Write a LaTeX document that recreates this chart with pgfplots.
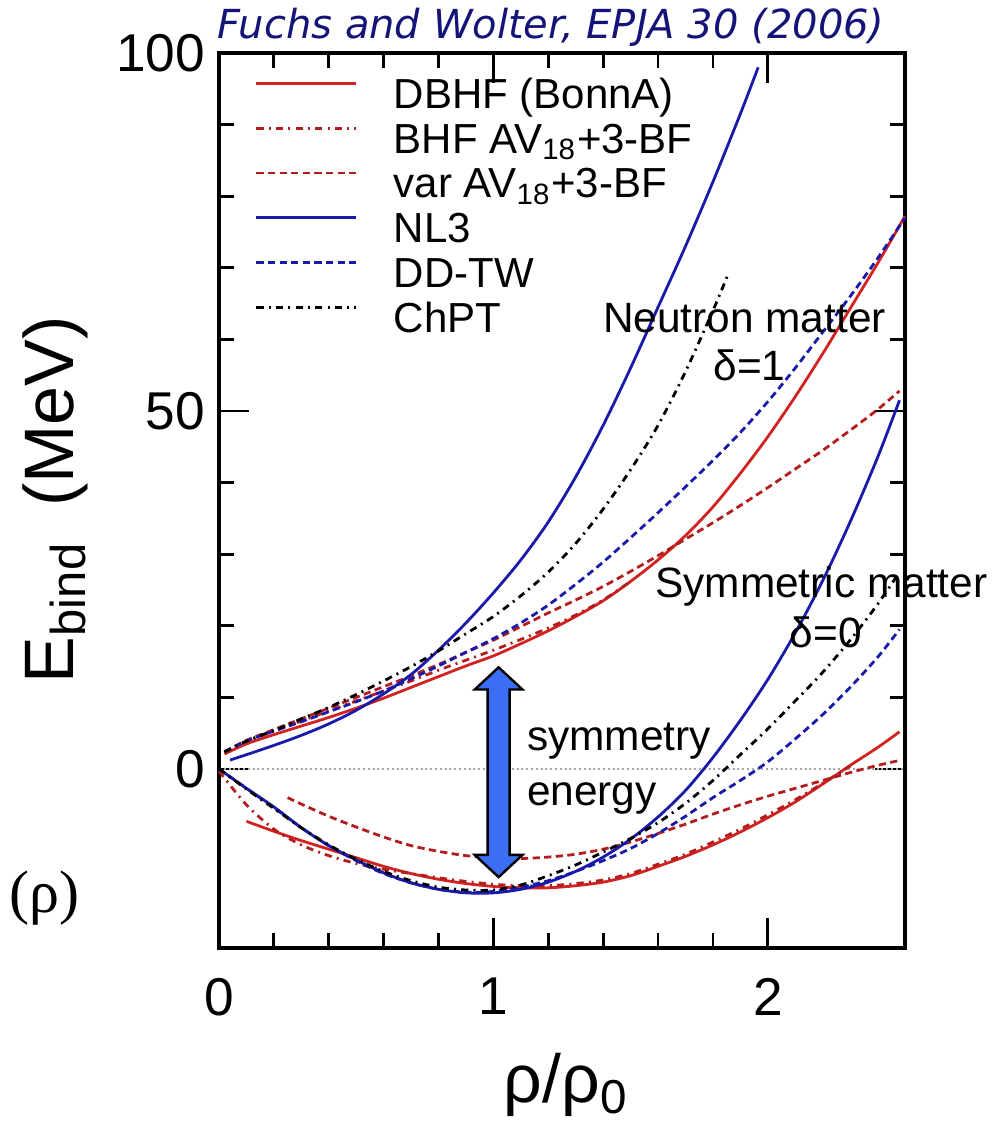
\documentclass[border=0pt]{standalone}
\usepackage{pgfplots}
\pgfplotsset{compat=1.18}
\usepackage{fontspec}
\setmainfont{Liberation Sans}
\newfontfamily\titlefont{DejaVu Sans}
\newfontfamily\seriffont{Liberation Serif}
\definecolor{cred}{RGB}{210,35,35}
\definecolor{cblue}{RGB}{25,25,170}
\definecolor{arrowblue}{RGB}{60,110,245}
\definecolor{navy}{RGB}{20,20,120}

\pgfplotstableread{
x y
0.02 2.1
0.1 3.5
0.2 4.8
0.3 6.0
0.4 7.2
0.5 8.5
0.6 9.9
0.7 11.4
0.8 12.9
0.9 14.4
1.0 15.8
1.1 17.5
1.2 19.3
1.3 21.3
1.4 23.5
1.5 26.2
1.6 29.2
1.7 32.6
1.8 36.6
1.9 41.3
2.0 46.4
2.1 52.0
2.2 58.0
2.3 64.3
2.4 70.6
2.5 77.2
}\dbhfN
\pgfplotstableread{
x y
0.02 2.3
0.1 3.8
0.2 5.3
0.3 6.7
0.4 8.1
0.5 9.5
0.6 10.9
0.7 12.3
0.8 13.8
0.9 15.2
1.0 16.6
1.1 18.1
1.2 19.7
1.3 21.5
1.4 23.6
1.5 26.2
}\bhfN
\pgfplotstableread{
x y
0.02 2.4
0.1 4.0
0.2 5.5
0.3 7.0
0.4 8.5
0.5 10.0
0.6 11.5
0.7 13.0
0.8 14.6
0.9 16.3
1.0 18.0
1.1 19.9
1.2 21.8
1.3 23.6
1.4 25.5
1.5 27.6
1.6 29.8
1.7 32.1
1.8 34.4
1.9 36.8
2.0 39.3
2.1 41.9
2.2 44.5
2.3 47.3
2.4 50.2
2.48 52.8
}\varN
\pgfplotstableread{
x y
0.04 1.25
0.1 2.0
0.2 3.3
0.3 4.7
0.4 6.3
0.5 8.2
0.6 10.5
0.7 13.2
0.8 16.6
0.9 20.4
1.0 24.6
1.1 29.2
1.2 34.5
1.3 40.8
1.4 48.0
1.5 56.0
1.6 64.5
1.7 73.0
1.8 82.0
1.9 91.5
1.965 98.0
}\nlN
\pgfplotstableread{
x y
0.02 2.4
0.1 3.9
0.2 5.3
0.3 6.6
0.4 8.0
0.5 9.4
0.6 10.9
0.7 12.6
0.8 14.4
0.9 16.3
1.0 18.2
1.1 20.4
1.2 22.9
1.3 25.8
1.4 28.9
1.5 32.3
1.6 35.8
1.7 39.4
1.8 43.1
1.9 47.0
2.0 51.3
2.1 56.0
2.2 61.0
2.3 66.0
2.4 71.3
2.5 77.0
}\ddN
\pgfplotstableread{
x y
0.02 2.4
0.1 3.9
0.2 5.4
0.3 7.0
0.4 8.6
0.5 10.4
0.6 12.3
0.7 14.3
0.8 16.5
0.9 18.9
1.0 21.3
1.1 24.2
1.2 27.5
1.3 31.5
1.4 36.3
1.5 41.8
1.6 48.0
1.7 55.5
1.8 64.0
1.854 69.0
}\chN
\pgfplotstableread{
x y
0.1 -7.3
0.2 -8.7
0.3 -10.0
0.4 -11.2
0.5 -12.4
0.6 -13.6
0.7 -14.6
0.8 -15.4
0.9 -16.0
1.0 -16.4
1.1 -16.6
1.2 -16.6
1.3 -16.3
1.4 -15.8
1.5 -14.9
1.6 -13.6
1.7 -12.2
1.8 -10.6
1.9 -8.8
2.0 -6.8
2.1 -4.6
2.2 -2.1
2.3 0.5
2.4 3.0
2.48 5.2
}\dbhfS
\pgfplotstableread{
x y
0.0 -0.3
0.1 -5.0
0.2 -8.4
0.3 -10.6
0.4 -12.1
0.5 -13.2
0.6 -14.0
0.7 -14.6
0.8 -15.2
0.9 -15.7
1.0 -16.1
1.1 -16.3
1.2 -16.3
1.3 -16.0
1.4 -15.5
1.5 -14.6
1.6 -13.3
1.7 -11.9
1.8 -10.2
1.9 -8.4
2.0 -6.4
2.1 -4.3
2.2 -2.0
2.3 0.4
}\bhfS
\pgfplotstableread{
x y
0.25 -4.0
0.3 -4.9
0.4 -6.6
0.5 -8.1
0.6 -9.5
0.7 -10.7
0.8 -11.5
0.9 -12.1
1.0 -12.4
1.1 -12.5
1.2 -12.3
1.3 -11.9
1.4 -11.2
1.5 -10.2
1.6 -9.0
1.7 -7.7
1.8 -6.3
1.9 -5.0
2.0 -3.8
2.1 -2.7
2.2 -1.6
2.3 -0.5
2.4 0.5
2.48 1.2
}\varS
\pgfplotstableread{
x y
0.0 0.0
0.1 -2.7
0.2 -5.3
0.3 -8.2
0.4 -10.7
0.5 -12.7
0.6 -14.5
0.7 -15.9
0.8 -16.8
0.9 -17.3
1.0 -17.3
1.1 -16.8
1.2 -15.8
1.3 -14.3
1.4 -12.3
1.5 -9.8
1.6 -6.7
1.7 -3.0
1.8 1.6
1.9 6.8
2.0 12.5
2.1 19.0
2.2 26.3
2.3 34.5
2.4 43.5
2.48 51.5
}\nlS
\pgfplotstableread{
x y
0.0 0.0
0.1 -2.7
0.2 -5.4
0.3 -8.2
0.4 -10.7
0.5 -12.8
0.6 -14.6
0.7 -15.9
0.8 -16.8
0.9 -17.2
1.0 -17.1
1.1 -16.5
1.2 -15.6
1.3 -14.3
1.4 -12.8
1.5 -11.1
1.6 -9.0
1.7 -6.6
1.8 -4.0
1.9 -1.6
2.0 1.0
2.1 4.2
2.2 7.6
2.3 11.4
2.4 15.6
2.48 19.5
}\ddS
\pgfplotstableread{
x y
0.0 0.0
0.1 -2.8
0.2 -5.5
0.3 -8.2
0.4 -10.6
0.5 -12.6
0.6 -14.3
0.7 -15.6
0.8 -16.5
0.9 -16.9
1.0 -16.9
1.1 -16.2
1.2 -14.9
1.3 -13.4
1.4 -11.6
1.5 -9.7
1.6 -7.5
1.7 -4.8
1.8 -1.6
1.9 2.0
2.0 5.6
2.1 9.5
2.2 13.5
2.3 18.0
2.4 23.0
2.48 27.5
}\chS

\begin{document}
\begin{tikzpicture}
\path[use as bounding box] (-54.75pt,-46.5pt) rectangle (196.5pt,237pt);
\begin{axis}[
  at={(0pt,0pt)}, anchor=south west,
  scale only axis, width=171.5pt, height=223.75pt,
  xmin=0, xmax=2.5, ymin=-25, ymax=100,
  xtick={0,1,2}, ytick={0,50,100},
  minor x tick num=4, minor y tick num=4,
  tick align=inside, tick pos=both,
  major tick length=7.5pt, minor tick length=3.8pt,
  every tick/.style={black, line width=0.7pt},
  axis line style={black, line width=0.8pt},
  ticklabel style={font=\fontsize{13.3}{13.3}\selectfont},
  /pgf/number format/assume math mode=true,
  xticklabel style={yshift=-4pt},
  xlabel={ρ/ρ\textsubscript{0}},
  ylabel={E\textsubscript{bind}\hspace{0.5em}(MeV)},
  every axis x label/.style={at={(axis description cs:0.506,-0.173)}, anchor=base, font=\fontsize{17}{17}\selectfont},
  every axis y label/.style={at={(axis description cs:-0.212,0.501)}, rotate=90, anchor=base, font=\fontsize{17.5}{17.5}\selectfont},
  legend style={at={(axis description cs:0.0525,0.974)}, anchor=north west, draw=none, fill=none, inner sep=0pt, outer sep=0pt, font=\fontsize{10.5}{11}\selectfont, row sep=0pt, nodes={inner sep=0pt, text height=8pt, text depth=3.2pt}, /tikz/every odd column/.append style={column sep=9pt}},
  legend cell align=left,
  legend image code/.code={\draw[#1] (0pt,3.8pt) -- (25pt,3.8pt);},
  clip=false,
  every axis plot/.append style={line width=0.7pt, smooth},
]
\addplot[forget plot, gray!70, line width=0.5pt, dash pattern=on 0.5pt off 0.7pt, sharp plot] coordinates {(0,0) (2.5,0)};
% neutron matter
\addplot[cred] table {\dbhfN};
\addlegendentry{DBHF (BonnA)}
\addplot[cred!85!black, dash pattern=on 1.8pt off 1.3pt on 0.5pt off 1.3pt] table {\bhfN};
\addlegendentry{BHF AV\textsubscript{18}+3-BF}
\addplot[cred!85!black, dash pattern=on 1.8pt off 1.1pt] table {\varN};
\addlegendentry{var AV\textsubscript{18}+3-BF}
\addplot[cblue] table {\nlN};
\addlegendentry{NL3}
\addplot[cblue, dash pattern=on 1.8pt off 1.1pt] table {\ddN};
\addlegendentry{DD-TW}
\addplot[black, dash pattern=on 1.8pt off 1.3pt on 0.5pt off 1.3pt] table {\chN};
\addlegendentry{ChPT}
% symmetric matter
\addplot[forget plot, cred] table {\dbhfS};
\addplot[forget plot, cred!85!black, dash pattern=on 1.8pt off 1.3pt on 0.5pt off 1.3pt] table {\bhfS};
\addplot[forget plot, cred!85!black, dash pattern=on 1.8pt off 1.1pt] table {\varS};
\addplot[forget plot, cblue] table {\nlS};
\addplot[forget plot, cblue, dash pattern=on 1.8pt off 1.1pt] table {\ddS};
\addplot[forget plot, black, dash pattern=on 1.8pt off 1.3pt on 0.5pt off 1.3pt] table {\chS};
% arrow
\draw[black, line width=0.6pt, fill=arrowblue] (axis cs:1.019,14.2) -- (axis cs:1.106,11.1) -- (axis cs:1.059,11.1) -- (axis cs:1.059,-12.0) -- (axis cs:1.106,-12.0) -- (axis cs:1.019,-15.1) -- (axis cs:0.932,-12.0) -- (axis cs:0.979,-12.0) -- (axis cs:0.979,11.1) -- (axis cs:0.932,11.1) -- cycle;
% annotations
\begin{scope}[every node/.style={inner sep=0pt, font=\fontsize{10.6}{12}\selectfont}]
\node[anchor=base] at (axis cs:1.915,60.9) {Neutron matter};
\node[anchor=base] at (axis cs:1.933,54.2) {δ=1};
\node[anchor=base west] at (axis cs:1.587,23.9) {Symmetric matter};
\node[anchor=base] at (axis cs:2.212,17.0) {δ=0};
\node[anchor=base west] at (axis cs:1.12,2.55) {symmetry};
\node[anchor=base west] at (axis cs:1.12,-5.1) {energy};
\end{scope}
\end{axis}
\node[anchor=base, inner sep=0pt, text=navy, font={\titlefont\itshape\fontsize{10}{12}\selectfont}] at (83pt,227.25pt) {Fuchs and Wolter, EPJA 30 (2006)};
\node[anchor=base east, inner sep=0pt, font={\seriffont\fontsize{15}{15}\selectfont}] at (-34.75pt,9pt) {(ρ)};
\end{tikzpicture}
\end{document}
